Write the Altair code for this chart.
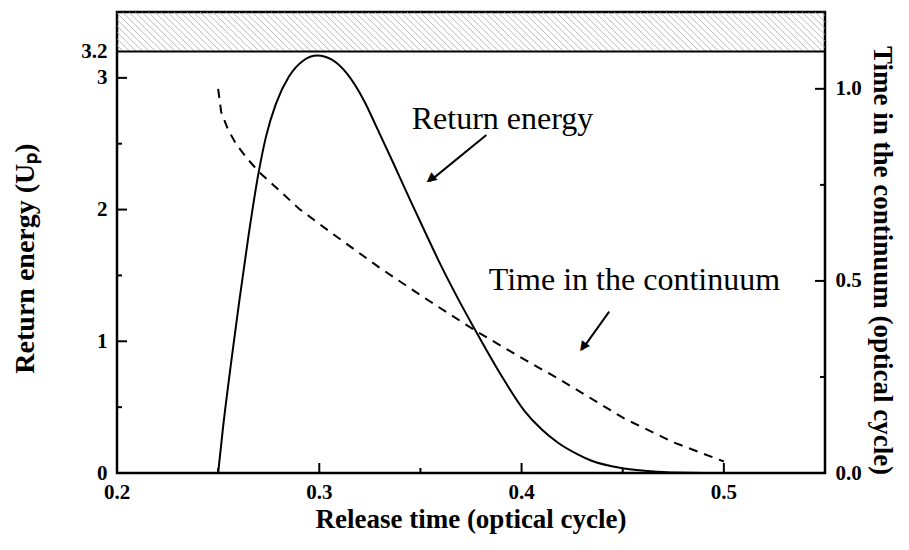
import altair as alt
import numpy as np
import pandas as pd

# ---- data ----
# Return energy (solid, left axis, units of Up)
release_e = [0.250, 0.2523, 0.2566, 0.2605, 0.2650, 0.2700, 0.2736, 0.2785, 0.2850, 0.2920,
             0.2990, 0.3060, 0.3138, 0.3220, 0.3285, 0.3367, 0.3450, 0.3523, 0.3600, 0.3687,
             0.3769, 0.3900, 0.4015, 0.4100, 0.4180, 0.4280, 0.4343, 0.4507, 0.4670, 0.4750,
             0.4900, 0.5000]
energy = [0.00, 0.33, 0.86, 1.31, 1.80, 2.28, 2.55, 2.80, 3.01, 3.13,
          3.17, 3.14, 3.03, 2.83, 2.62, 2.35, 2.07, 1.83, 1.58, 1.32,
          1.09, 0.74, 0.47, 0.33, 0.23, 0.14, 0.095, 0.035, 0.01, 0.003,
          0.0, 0.0]

# Time in the continuum (dashed, right axis, optical cycles)
release_t = [0.2500, 0.2515, 0.2548, 0.2589, 0.2646, 0.2703, 0.2785, 0.2900, 0.3060, 0.3294,
             0.3392, 0.3540, 0.3770, 0.4015, 0.4180, 0.4278, 0.4507, 0.4750, 0.5000]
time_cont = [1.00, 0.94, 0.895, 0.856, 0.817, 0.783, 0.744, 0.688, 0.625, 0.536,
             0.501, 0.449, 0.371, 0.295, 0.246, 0.215, 0.142, 0.08, 0.03]

# axis ticks
x_major = [0.2, 0.3, 0.4, 0.5]
x_minor = [0.25, 0.35, 0.45]
yl_major = [0, 1, 2, 3]
yl_minor = [0.5, 1.5, 2.5]
yl_labels = [0, 1, 2, 3, 3.2]
yr_major = [0.0, 0.5, 1.0]
yr_minor = [0.25, 0.75]

# forbidden (hatched) band in units of Up
band_low = 3.2
band_high = 3.5

# annotations
ann_text = ["Return energy", "Time in the continuum"]
ann_x = [0.3457, 0.3838]
ann_y = [2.61, 1.39]
arrow_x = [0.3826, 0.4433]
arrow_y = [2.566, 1.225]
arrow_x2 = [0.3545, 0.4298]
arrow_y2 = [2.214, 0.935]
# arrow-head centres, a little behind the tips
head_x = [0.3547, 0.4302]
head_y = [2.227, 0.952]
head_angle = [231.7, 215.8]

x_title = "Release time (optical cycle)"
yl_title = "Return energy (Uₚ)"
yr_title = "Time in the continuum (optical cycle)"

# ---- chart ----
W, H = 708, 461
FONT = "Liberation Serif"

x_scale = alt.Scale(domain=[0.2, 0.55], nice=False, zero=False)
yl_scale = alt.Scale(domain=[0, 3.5], nice=False, zero=False)
yr_scale = alt.Scale(domain=[0, 1.2], nice=False, zero=False)

df_e = pd.DataFrame({"t": release_e, "e": energy})
df_t = pd.DataFrame({"t": release_t, "c": time_cont})

# hatch texture (decoration only)
hatch_step = 0.0032
hatch_dx = 0.0198
hx0 = np.arange(0.2 - hatch_dx, 0.55 + hatch_step, hatch_step)
df_hatch = pd.DataFrame({"x0": hx0, "x1": hx0 + hatch_dx,
                         "top": band_high, "bot": band_low})

hatch = alt.Chart(df_hatch).mark_rule(color="#a8a8a8", strokeWidth=0.8, clip=True).encode(
    x=alt.X("x0:Q", scale=x_scale, axis=None),
    x2="x1:Q",
    y=alt.Y("top:Q", scale=yl_scale, axis=None),
    y2="bot:Q",
)

band_line = alt.Chart(pd.DataFrame({"y": [band_low]})).mark_rule(
    color="black", strokeWidth=2
).encode(y=alt.Y("y:Q", scale=yl_scale, axis=None))

solid = alt.Chart(df_e).mark_line(color="black", strokeWidth=2, interpolate="monotone").encode(
    x=alt.X("t:Q", scale=x_scale, axis=None),
    y=alt.Y("e:Q", scale=yl_scale,
            axis=alt.Axis(orient="left", values=yl_labels, format=".1~f",
                          title=yl_title, titleFontSize=28,
                          ticks=False, domain=False, grid=False, labelPadding=10,
                          labelFlush=False,
                          titleX=-92, titleY=246, titleAngle=270,
                          titleBaseline="middle", titleAlign="center")),
)

dashed = alt.Chart(df_t).mark_line(color="black", strokeWidth=2, strokeDash=[9, 7]).encode(
    x=alt.X("t:Q", scale=x_scale, axis=None),
    y=alt.Y("c:Q", scale=yr_scale,
            axis=alt.Axis(orient="right", values=yr_major, format=".1f",
                          title=yr_title,
                          ticks=False, domain=False, grid=False, labelPadding=10,
                          labelFlush=False,
                          titleX=56, titleY=248, titleAngle=90,
                          titleBaseline="middle", titleAlign="center")),
)

# bottom axis labels and title (drawn as text through the x scale)
df_xlab = pd.DataFrame({"v": x_major, "lab": [f"{v:.1f}" for v in x_major]})
x_labels = alt.Chart(df_xlab).mark_text(
    font=FONT, fontSize=21, fontWeight="bold", align="center", baseline="middle",
    color="black",
).encode(
    x=alt.X("v:Q", scale=x_scale, axis=None),
    y=alt.value(H + 20),
    text="lab:N",
)
x_title_mark = alt.Chart(pd.DataFrame({"t": [x_title]})).mark_text(
    font=FONT, fontSize=27, fontWeight="bold", align="center", baseline="middle",
    color="black",
).encode(x=alt.value(W / 2), y=alt.value(H + 47), text="t:N")


def hticks(vals, scale, x0, x1):
    return alt.Chart(pd.DataFrame({"v": vals})).mark_rule(color="black", strokeWidth=2).encode(
        y=alt.Y("v:Q", scale=scale, axis=None), x=alt.value(x0), x2=alt.value(x1))


def vticks(vals, length):
    return alt.Chart(pd.DataFrame({"v": vals})).mark_rule(color="black", strokeWidth=2).encode(
        x=alt.X("v:Q", scale=x_scale, axis=None), y=alt.value(H), y2=alt.value(H - length))


df_ann = pd.DataFrame({"txt": ann_text, "x": ann_x, "y": ann_y})
texts = alt.Chart(df_ann).mark_text(font=FONT, fontSize=32, align="left",
                                    baseline="alphabetic", color="black").encode(
    x=alt.X("x:Q", scale=x_scale, axis=None),
    y=alt.Y("y:Q", scale=yl_scale, axis=None),
    text="txt:N",
)

df_arr = pd.DataFrame({"x": arrow_x, "y": arrow_y, "xe": arrow_x2, "ye": arrow_y2})
shafts = alt.Chart(df_arr).mark_rule(color="black", strokeWidth=2).encode(
    x=alt.X("x:Q", scale=x_scale, axis=None), x2="xe:Q",
    y=alt.Y("y:Q", scale=yl_scale, axis=None), y2="ye:Q",
)


def head(i):
    d = pd.DataFrame({"hx": [head_x[i]], "hy": [head_y[i]], "g": ["\u25B2"]})
    return alt.Chart(d).mark_text(
        font="DejaVu Sans", fontSize=13, align="center", baseline="middle",
        color="black", angle=float(head_angle[i]),
    ).encode(
        x=alt.X("hx:Q", scale=x_scale, axis=None),
        y=alt.Y("hy:Q", scale=yl_scale, axis=None),
        text="g:N",
    )


layers = [
    solid, dashed, hatch, band_line,
    hticks(yl_major, yl_scale, 0, 10), hticks(yl_minor, yl_scale, 0, 5),
    hticks(yr_major, yr_scale, W, W - 10), hticks(yr_minor, yr_scale, W, W - 5),
    vticks(x_major, 10), vticks(x_minor, 5),
    x_labels, x_title_mark,
    texts, shafts, head(0), head(1),
]

chart = alt.layer(*layers).resolve_scale(y="independent").properties(
    width=W, height=H,
    padding={"left": 109, "top": 4, "right": 76, "bottom": 62},
    autosize=alt.AutoSizeParams(type="none"),
    background="white",
).configure_view(
    stroke="black", strokeWidth=2.5
).configure_axis(
    labelFont=FONT, labelFontSize=21, labelFontWeight="bold", labelColor="black",
    titleFont=FONT, titleFontSize=27, titleFontWeight="bold", titleColor="black",
)

chart.save("out.html", embed_options={"renderer": "svg", "actions": False})
